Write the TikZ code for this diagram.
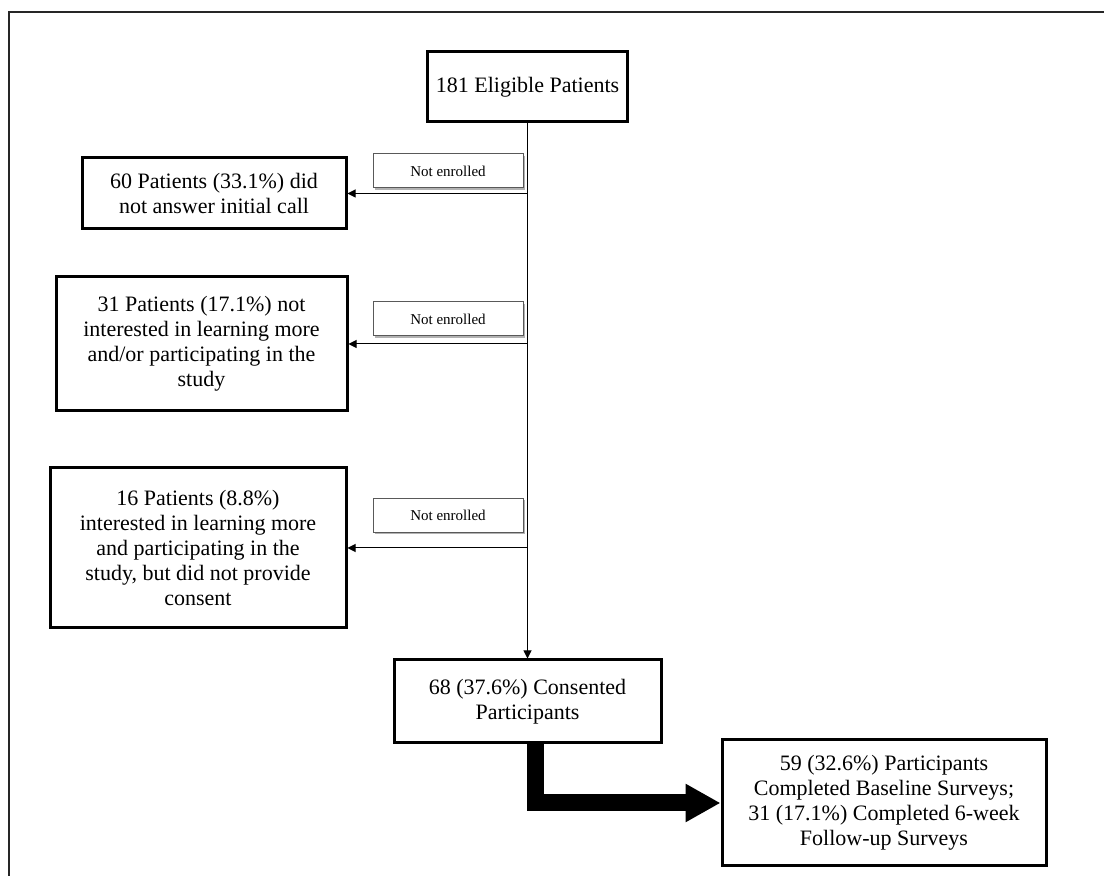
\documentclass[tikz,border=0pt]{standalone}
\usepackage{fontspec}
\setmainfont{Liberation Serif}
\usetikzlibrary{arrows.meta,shadows}

\begin{document}
\begin{tikzpicture}[x=0.5pt,y=-0.5pt,
		box/.style={draw,line width=1.5pt,align=center,inner sep=0pt,font=\fontsize{11}{12.5}\selectfont},
		note/.style={draw=gray!70!black,line width=0.5pt,fill=white,inner sep=0pt,
			minimum width=75pt,minimum height=17pt,font=\fontsize{7.5}{9}\selectfont,
			general shadow={fill=gray!60,shadow xshift=1pt,shadow yshift=-1pt}},
		arr/.style={-{Triangle[length=4pt,width=4pt]},line width=0.5pt}]
		\useasboundingbox (0,0) rectangle (1104,876);
		% frame
		\draw[line width=1.2pt,black!85] (9,876) -- (9,12) -- (1104,12);
		
		\node[box,minimum width=100pt,minimum height=35pt] (elig) at (527.5,87) {181 Eligible Patients};
		
		\node[box,minimum width=132pt,minimum height=35.5pt] (noans) at (214,193.5) {60 Patients (33.1\%) did\\not answer initial call};
		\node[box,minimum width=145.5pt,minimum height=67pt] (notint) at (201.5,344) {31 Patients (17.1\%) not\\interested in learning more\\and/or participating in the\\study};
		\node[box,minimum width=148pt,minimum height=80pt] (nocons) at (198,548) {16 Patients (8.8\%)\\interested in learning more\\and participating in the\\study, but did not provide\\consent};
		
		\node[note] (ne1) at (448,171) {Not enrolled};
		\node[note] (ne2) at (448,319) {Not enrolled};
		\node[note] (ne3) at (448,515.5) {Not enrolled};
		
		\node[box,minimum width=133.5pt,minimum height=41.5pt] (cons) at (527.5,701.5) {68 (37.6\%) Consented\\Participants};
		\node[box,minimum width=162pt,minimum height=63pt] (done) at (884,803) {59 (32.6\%) Participants\\Completed Baseline Surveys;\\31 (17.1\%) Completed 6-week\\Follow-up Surveys};
		
		\draw[arr] (elig) -- (cons);
		\draw[arr] (elig.south |- noans) -- (noans);
		\draw[arr] (elig.south |- notint) -- (notint);
		\draw[arr] (elig.south |- nocons) -- (nocons);
		
		\draw[line width=8.5pt,-{Triangle[length=17.5pt,width=18pt]}] ([xshift=4pt]cons.south) |- (done.west);
		
	\end{tikzpicture}
\end{document}
